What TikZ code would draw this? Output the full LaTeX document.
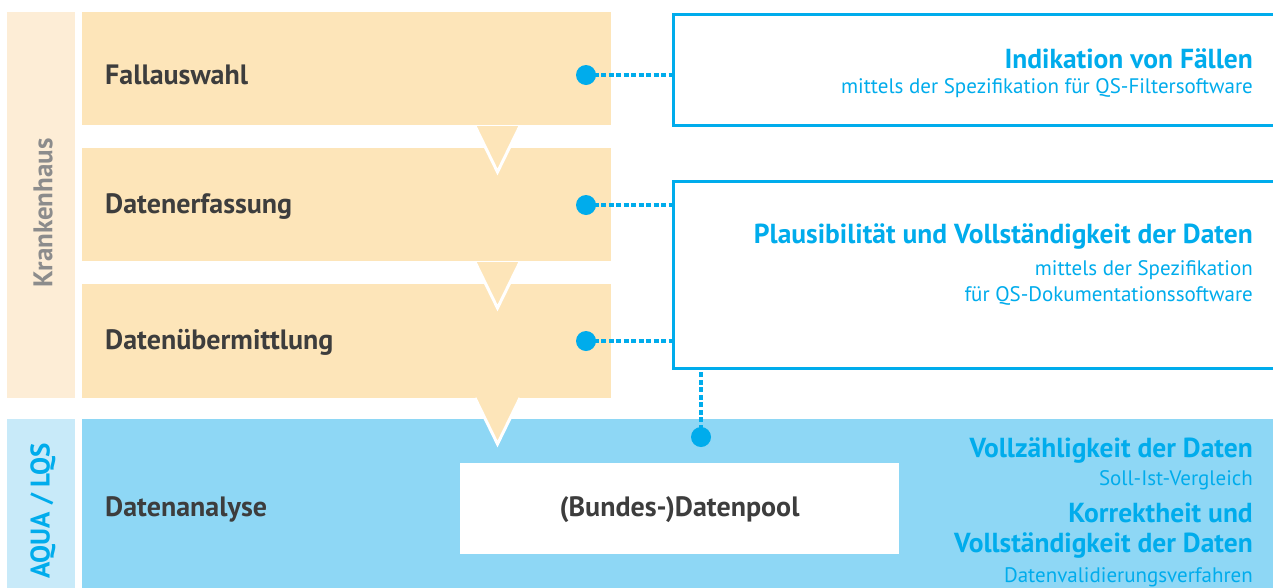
\documentclass[tikz,border=0pt]{standalone}
\usepackage{fontspec}
\setmainfont{PT Sans}
\usepackage{xcolor}
\definecolor{sand}{RGB}{253,229,185}
\definecolor{cream}{RGB}{253,237,214}
\definecolor{sky}{RGB}{142,215,245}
\definecolor{mist}{RGB}{200,234,249}
\definecolor{qsblue}{RGB}{0,172,236}
\definecolor{ink}{RGB}{61,61,61}
\definecolor{ash}{RGB}{140,140,140}
\usepackage{tikz}
\usetikzlibrary{positioning}
\tikzset{
  %% boxes
  stagebox/.style={fill=sand, draw=none, inner sep=0, anchor=north west},
  sidebox/.style={draw=none, inner sep=0, anchor=north west},
  infobox/.style={draw=qsblue, line width=3pt, fill=white, inner sep=0, anchor=north west},
  notch/.style={fill=sand, draw=none},
  notchrim/.style={draw=white, line width=3pt},
  %% texts
  stagetext/.style={font=\fontsize{28}{32}\selectfont\bfseries, text=ink, inner sep=0, anchor=base west},
  sidetext/.style={font=\fontsize{27}{32}\selectfont\bfseries, inner sep=0, rotate=90},
  headtext/.style={font=\fontsize{27.5}{32}\selectfont\bfseries, text=qsblue, inner sep=0, anchor=base east},
  subtext/.style={font=\fontsize{21}{24}\selectfont, text=qsblue, inner sep=0, anchor=base east},
  %% connectors
  dot/.style={circle, fill=qsblue, minimum size=20pt, inner sep=0},
  link/.style={draw=qsblue, line width=4pt, dash pattern=on 5pt off 2.5pt},
}
\begin{document}
\begin{tikzpicture}[x=1pt,y=-1pt]
\useasboundingbox (0,0) rectangle (1273,587);
\clip (0,0) rectangle (1273,587);

% side columns
\node[sidebox, fill=cream, minimum width=68, minimum height=386] (kh) at (7,12) {};
\node[sidebox, fill=mist, minimum width=68, minimum height=180] (aq) at (7,419) {};
\node[sidetext, text=ash] at (43,213) {Krankenhaus};
\node[sidetext, text=qsblue] at (43,511) {AQUA / LQS};

% process stages
\node[stagebox, minimum width=529, minimum height=113] (fall) at (82,12) {};
\node[stagebox, minimum width=529, minimum height=113] (erf) at (82,148) {};
\node[stagebox, minimum width=529, minimum height=114] (ueb) at (82,284) {};
\node[stagebox, fill=sky, minimum width=1200, minimum height=180] (ana) at (82,419) {};

% arrows between stages
\foreach \top/\tip in {126/172, 262/308, 398/444}{
  \fill[notch] (475,\top) -- (520,\top) -- (497.5,\tip) -- cycle;
  \draw[notchrim] (475,\top) -- (497.5,\tip) -- (520,\top);
}

\node[stagetext] at (105,84) {Fallauswahl};
\node[stagetext] at (105,213) {Datenerfassung};
\node[stagetext] at (105,349) {Datenübermittlung};
\node[stagetext] at (105,516) {Datenanalyse};

% pool
\node[sidebox, fill=white, minimum width=439, minimum height=91] (pool) at (460,463) {};
\node[stagetext, anchor=base] at (679.5,516) {(Bundes-)Datenpool};

% checks
\node[infobox, minimum width=640, minimum height=111] (ind) at (672,13) {};
\node[infobox, minimum width=640, minimum height=187] (plaus) at (672,180) {};

\node[headtext] at (1253,68) {Indikation von Fällen};
\node[subtext] at (1253,93) {mittels der Spezifikation für QS-Filtersoftware};
\node[headtext] at (1253,243) {Plausibilität und Vollständigkeit der Daten};
\node[subtext] at (1253,275) {mittels der Spezifikation};
\node[subtext] at (1253,301) {für QS-Dokumentationssoftware};
\node[headtext] at (1253,457) {Vollzähligkeit der Daten};
\node[subtext] at (1253,485) {Soll-Ist-Vergleich};
\node[headtext] at (1253,522) {Korrektheit und};
\node[headtext] at (1253,552) {Vollständigkeit der Daten};
\node[subtext] at (1253,582) {Datenvalidierungsverfahren};

% dotted links
\node[dot] (d1) at (586,75) {};
\node[dot] (d2) at (586,205) {};
\node[dot] (d3) at (586,341) {};
\node[dot] (d4) at (701,437) {};
\draw[link] (d1.center) -- (d1 -| ind.west);
\draw[link] (d2.center) -- (d2 -| plaus.west);
\draw[link] (d3.center) -- (d3 -| plaus.west);
\draw[link] (d4.center) -- (d4 |- plaus.south);
\end{tikzpicture}
\end{document}
